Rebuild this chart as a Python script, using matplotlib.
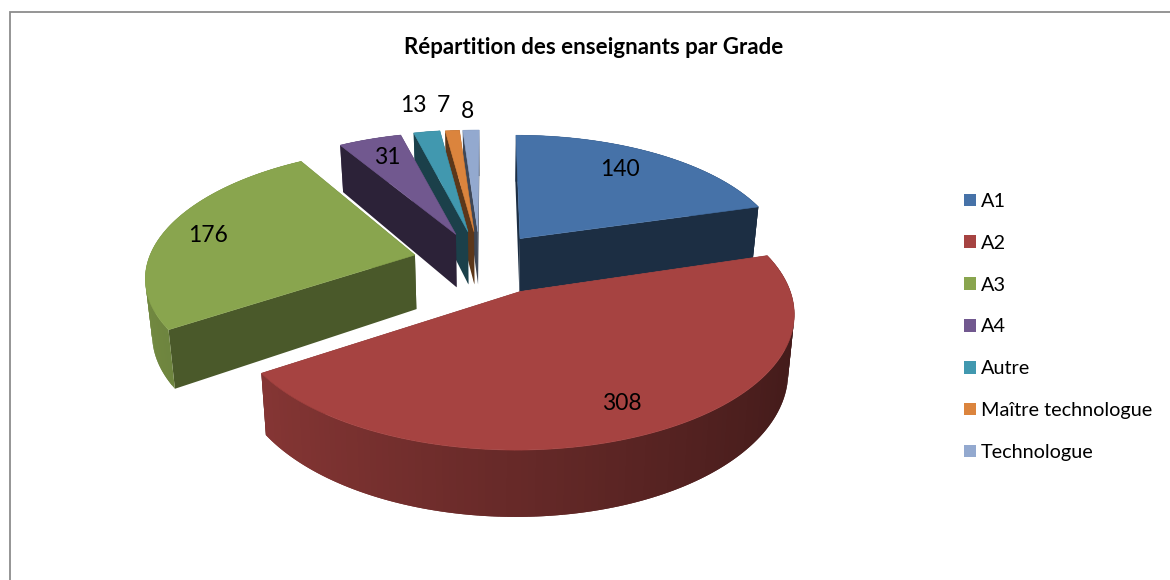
import numpy as np
import matplotlib
matplotlib.use("Agg")
import matplotlib.pyplot as plt
from matplotlib.patches import Patch
from matplotlib.colors import to_rgb

TITLE = "Répartition des enseignants par Grade"
categories = ["A1", "A2", "A3", "A4", "Autre", "Maître technologue", "Technologue"]
values = [140, 308, 176, 31, 13, 7, 8]
colors = ["#4672A8", "#A64341", "#89A54E", "#71588F", "#4198AF", "#DB843D", "#93A9CF"]

# layout of the hand-built 3D pie (pixel-based view)
FACE_DARK = [0.40, 0.40, 0.54, 0.39, 0.42, 0.42, 0.42]
OFFSET_U = [0.125, 0.118, -0.280, -0.126, -0.079, -0.055, -0.040]
OFFSET_V = [0.240, -0.180, 0.104, 0.275, 0.298, 0.298, 0.298]
RIM_SCALE = [1.015, 1.022, 1.01, 1.0, 1.0, 1.0, 1.0]
RIM_SHIFT = [0.0, -0.03, -0.005, -0.01, 0.0, 0.0, 0.0]
LABEL_X = [620, 622, 208, 387, 413, 443, 468]
LABEL_Y = [170, 403, 235, 158, 106, 106, 112]
DRAW_ORDER = [6, 5, 4, 3, 0, 2, 1]
CX, CY, A, B, K, DEPTH, SHRINK = 488, 268, 265, 127, 0.15, 55, 0.98

plt.rcParams["font.family"] = ["Lato", "DejaVu Sans"]
fig = plt.figure(figsize=(11.7, 5.8), dpi=100)
ax = fig.add_axes([0, 0, 1, 1])
ax.set_xlim(0, 1170)
ax.set_ylim(580, 0)
ax.axis("off")

ax.plot([10, 10, 1170], [580, 12, 12], color="#8c8c8c", lw=1.3, solid_joinstyle="miter")


def top(u, v):
    s = 1 / (1 + K * v)
    return CX + A * u * s, CY - B * v * s


def bottom(u, v):
    s = 1 / (1 + K * v)
    x, y = top(u, v)
    return CX + (x - CX) * SHRINK, y + DEPTH * s


def wall(pts, color):
    t = [top(*p) for p in pts]
    b = [bottom(*p) for p in pts]
    poly = t + b[::-1]
    ax.fill([p[0] for p in poly], [p[1] for p in poly], color=color, lw=0)


total = sum(values)
edges = np.concatenate([[0], np.cumsum(values)]) / total * 2 * np.pi

for i in DRAW_ORDER:
    base = np.array(to_rgb(colors[i]))
    a0, a1 = edges[i], edges[i + 1]
    u0, v0 = OFFSET_U[i], OFFSET_V[i]
    th = np.linspace(a0, a1, max(int(np.degrees(a1 - a0) * 0.8), 4))
    rim = [(u0 + RIM_SHIFT[i] + RIM_SCALE[i] * np.sin(t), v0 + np.cos(t)) for t in th]
    centre = (u0, v0)
    dark = base * FACE_DARK[i]

    # walls, farthest first; neighbouring rim pieces overlap to hide seams
    parts = [([centre, rim[0]], dark), ([centre, rim[-1]], dark)]
    for j in range(len(rim) - 1):
        f = 0.62 - 0.22 * np.sin((th[j] + th[j + 1]) / 2)
        parts.append((rim[j:j + 3], base * f))
    parts.sort(key=lambda p: -np.mean([q[1] for q in p[0]]))
    for pts, col in parts:
        wall(pts, tuple(col))

    poly = [top(*centre)] + [top(*p) for p in rim]
    ax.fill([p[0] for p in poly], [p[1] for p in poly], color=colors[i], lw=0.4)

for v, x, y in zip(values, LABEL_X, LABEL_Y):
    ax.text(x, y, str(v), ha="center", va="center", fontsize=16.5, color="black")

ax.text(594, 48, TITLE, ha="center", va="center", fontsize=16, fontweight="bold", color="black")

handles = [Patch(facecolor=c, edgecolor="none") for c in colors]
FS = 14.3
leg = ax.legend(handles, categories, loc="upper left", bbox_to_anchor=(958, 187),
                bbox_transform=ax.transData, frameon=False, fontsize=FS,
                handlelength=0.6, handleheight=0.6, handletextpad=0.25,
                labelspacing=1.25, borderpad=0.3, borderaxespad=0)

fig.savefig("out.png", dpi=100)
